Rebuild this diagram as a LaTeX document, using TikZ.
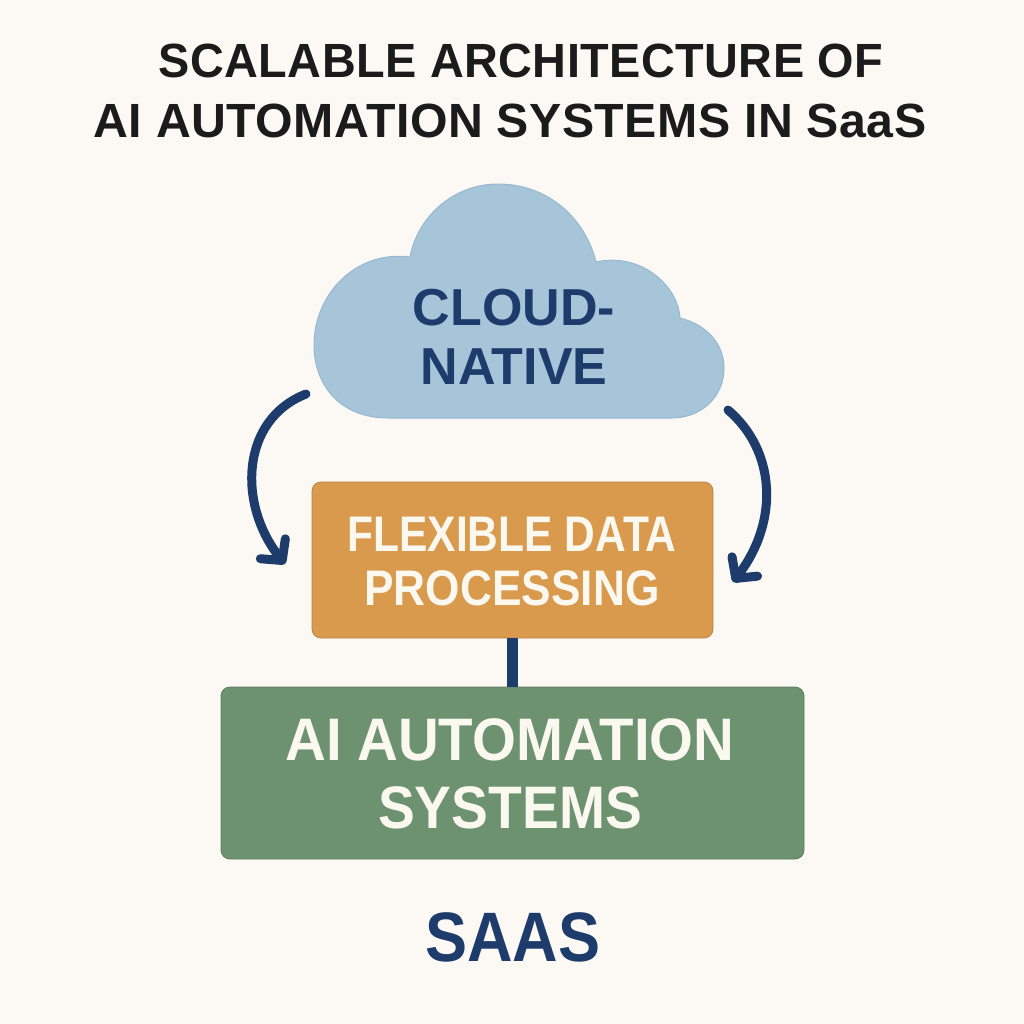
\documentclass[tikz,border=0pt]{standalone}
\usepackage{fontspec}
\setmainfont{Liberation Sans}
\usetikzlibrary{arrows.meta}
\definecolor{bgc}{HTML}{FCF9F4}
\definecolor{navy}{HTML}{1D3B6B}
\definecolor{cloudc}{HTML}{A6C5D9}
\definecolor{cloude}{HTML}{97B9D0}
\definecolor{orangec}{HTML}{D99A4E}
\definecolor{greenc}{HTML}{6C9270}
\definecolor{titlec}{HTML}{1B1B1B}
\definecolor{lightc}{HTML}{FBF8F0}
\newcommand{\sx}[2]{\scalebox{#1}[1]{#2}}
\tikzset{
 x=1pt,y=-1pt,
 boxlabel/.style={font=\bfseries, align=center, inner sep=0},
 conn/.style={draw=navy, line width=11pt},
 arrowc/.style={draw=navy, line width=9pt, line cap=round, -{Straight Barb[length=15pt,width=32pt,line width=9pt,round]}}
}
\begin{document}
\begin{tikzpicture}
\useasboundingbox[fill=bgc] (0,0) rectangle (1024,1024);
\node[font=\fontsize{48}{54}\selectfont\bfseries, text=titlec, inner sep=0] (t1) at (521,61) {\sx{0.975}{\addfontfeature{LetterSpace=1.0}SCALABLE ARCHITECTURE OF}};
\node[font=\fontsize{48}{54}\selectfont\bfseries, text=titlec, inner sep=0] (t2) at (510,121) {\sx{1.005}{\addfontfeature{LetterSpace=1.0}AI AUTOMATION SYSTEMS IN SaaS}};
\fill[cloudc, draw=cloude, line width=1pt] (388,418)
 .. controls (340,418) and (314,385) .. (314,345)
 .. controls (314,295) and (355,250) .. (410,257)
 .. controls (418,215) and (455,184) .. (498,184)
 .. controls (548,184) and (585,218) .. (596,262)
 .. controls (640,252) and (678,285) .. (680,318)
 .. controls (708,325) and (724,345) .. (724,368)
 .. controls (724,398) and (700,418) .. (672,418) -- cycle;
\coordinate (cloudL) at (306,394);
\coordinate (cloudR) at (728,410);
\node[boxlabel, text=navy, font=\fontsize{52}{60}\selectfont\bfseries] (cloudtxt) at (514,337) {CLOUD-\\[-1pt]NATIVE};
\node[draw=orangec!85!black, fill=orangec, rounded corners=9pt, line width=0.8pt, minimum width=401pt, minimum height=156pt, inner sep=0] (flex) at (512.5,560) {};
\node[boxlabel, text=lightc, font=\fontsize{50}{54}\selectfont\bfseries] (flextxt) at (512,562) {\sx{0.85}{FLEXIBLE DATA}\\\sx{0.885}{PROCESSING}};
\node[draw=greenc!85!black, fill=greenc, rounded corners=9pt, line width=0.8pt, minimum width=583pt, minimum height=172pt, inner sep=0] (ai) at (512.5,773) {};
\node[boxlabel, text=lightc, font=\fontsize{60}{68}\selectfont\bfseries] (aitxt) at (510,774) {\sx{0.94}{AI AUTOMATION}\\\sx{0.92}{SYSTEMS}};
\node[inner sep=0, text=navy, font=\fontsize{70}{80}\selectfont\bfseries] (saas) at (513,937) {\sx{0.9}{SAAS}};
\draw[conn] (flex.south) -- (ai.north);
\coordinate (lend) at (285,564);
\coordinate (rend) at (733,582);
\draw[arrowc] (cloudL) .. controls (240,420) and (238,505) .. (lend);
\draw[arrowc] (cloudR) .. controls (775,450) and (780,520) .. (rend);
\end{tikzpicture}
\end{document}
